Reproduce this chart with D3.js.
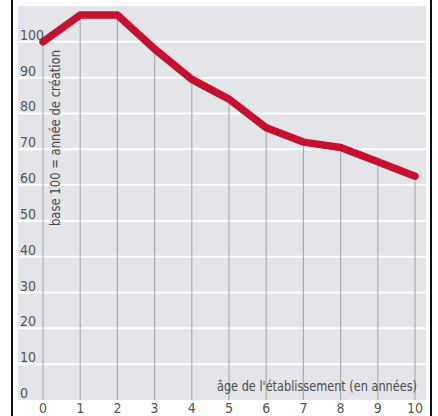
<!DOCTYPE html>
<html>
<head>
<meta charset="utf-8">
<script src="https://cdn.jsdelivr.net/npm/d3@7"></script>
<style>
  body { margin: 0; background: #fff; }
  svg { display: block; }
  text { font-family: "Liberation Sans Narrow", "DejaVu Sans Condensed", "Liberation Sans", sans-serif; }
</style>
</head>
<body>
<script>
// data
const years = [0, 1, 2, 3, 4, 5, 6, 7, 8, 9, 10];
const values = [100, 107.5, 107.5, 98, 89.5, 84, 76, 72, 70.5, 66.5, 62.5];
const yTicks = [0, 10, 20, 30, 40, 50, 60, 70, 80, 90, 100];
const yTitle = "base 100 = année de création";
const xTitle = "âge de l'établissement (en années)";

const W = 438, H = 416;
const panel = { left: 18, right: 426, top: 6, bottom: 400 };

const svg = d3.select("body").append("svg")
    .attr("width", W)
    .attr("height", H);

// scales
const x = d3.scaleLinear().domain([0, 10]).range([43, 415]);
const y = d3.scaleLinear().domain([0, 110]).range([panel.bottom, panel.top]);

// gray panel
svg.append("rect")
    .attr("x", panel.left)
    .attr("y", panel.top)
    .attr("width", panel.right - panel.left)
    .attr("height", panel.bottom - panel.top)
    .attr("fill", "#e3e5e8");

// white horizontal grid
svg.append("g").selectAll("line")
    .data(yTicks.filter(d => d > 0))
    .enter().append("line")
    .attr("x1", panel.left)
    .attr("x2", panel.right)
    .attr("y1", d => y(d))
    .attr("y2", d => y(d))
    .attr("stroke", "#fff")
    .attr("stroke-width", 2);

// drop lines from each point to the bottom
svg.append("g").selectAll("line")
    .data(years)
    .enter().append("line")
    .attr("x1", d => x(d))
    .attr("x2", d => x(d))
    .attr("y1", panel.bottom)
    .attr("y2", (d, i) => y(values[i]))
    .attr("stroke", "#a9adb2")
    .attr("stroke-width", 1.2);

// y tick labels
svg.append("g").selectAll("text")
    .data(yTicks)
    .enter().append("text")
    .attr("x", 20)
    .attr("y", d => y(d) - 2)
    .attr("font-size", 14)
    .attr("fill", "#555")
    .text(d => d);

// x tick labels, sitting at the very bottom edge as in the original
svg.append("g").selectAll("text")
    .data(years)
    .enter().append("text")
    .attr("x", d => x(d))
    .attr("y", 413)
    .attr("text-anchor", "middle")
    .attr("font-size", 14)
    .attr("fill", "#555")
    .text(d => d);

// axis titles (condensed to the original's width)
svg.append("text")
    .attr("transform", "translate(60,226) rotate(-90)")
    .attr("font-size", 14)
    .attr("fill", "#4a4a4a")
    .attr("textLength", 176)
    .attr("lengthAdjust", "spacingAndGlyphs")
    .text(yTitle);

svg.append("text")
    .attr("x", 217)
    .attr("y", 391)
    .attr("font-size", 14)
    .attr("fill", "#4a4a4a")
    .attr("textLength", 200)
    .attr("lengthAdjust", "spacingAndGlyphs")
    .text(xTitle);

// the red line
const line = d3.line()
    .x((d, i) => x(years[i]))
    .y(d => y(d));

svg.append("path")
    .datum(values)
    .attr("d", line)
    .attr("fill", "none")
    .attr("stroke", "#c5102f")
    .attr("stroke-width", 7.5)
    .attr("stroke-linejoin", "round")
    .attr("stroke-linecap", "round");

// black frame sides
svg.append("line")
    .attr("x1", 12).attr("x2", 12).attr("y1", 0).attr("y2", H)
    .attr("stroke", "#111").attr("stroke-width", 2);
svg.append("line")
    .attr("x1", 431).attr("x2", 431).attr("y1", 0).attr("y2", H)
    .attr("stroke", "#111").attr("stroke-width", 2);
</script>
</body>
</html>
